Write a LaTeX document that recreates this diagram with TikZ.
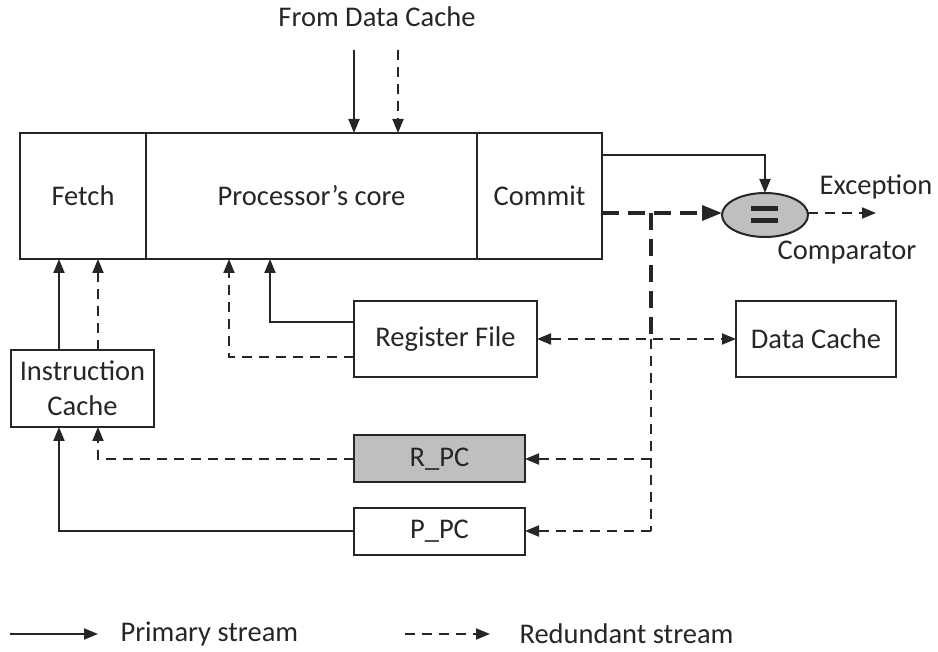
\documentclass[tikz,border=0pt]{standalone}
\usepackage{fontspec}
\setmainfont{Carlito}
\usetikzlibrary{arrows.meta,shapes.geometric}
\begin{document}
\begin{tikzpicture}[x=1pt,y=-1pt,
  every node/.style={font=\fontsize{28.5}{35}\selectfont, text=black!85},
  blk/.style={draw=black!85, line width=2pt, inner sep=0pt, outer sep=0pt},
  ln/.style={draw=black!85, line width=2pt},
  dsh/.style={ln, dash pattern=on 10pt off 7pt},
  thk/.style={draw=black!85, line width=3.5pt, dash pattern=on 17pt off 9pt},
  tip/.style={-{Triangle[length=14pt,width=11pt]}},
  bothtip/.style={{Triangle[length=14pt,width=11pt]}-{Triangle[length=14pt,width=11pt]}},
]
\useasboundingbox (0,0) rectangle (938,652);
% main box
\node[blk, minimum width=126pt, minimum height=126pt] (fetch) at (83,196) {Fetch};
\node[blk, minimum width=331pt, minimum height=126pt] (core) at (311.5,196) {Processor’s core};
\node[blk, minimum width=125pt, minimum height=126pt] (commit) at (539.5,196) {Commit};
% other blocks
\node[blk, minimum width=183pt, minimum height=76pt] (rf) at (445.5,339) {Register File};
\node[blk, minimum width=160pt, minimum height=76pt] (dc) at (816,339) {Data Cache};
\node[blk, minimum width=143pt, minimum height=77pt, align=center] (ic) at (82.5,388.5) {Instruction\\Cache};
\node[blk, fill=black!25, minimum width=171pt, minimum height=47pt] (rpc) at (439.5,459) {R\_PC};
\node[blk, minimum width=171pt, minimum height=47pt] (ppc) at (439.5,531) {P\_PC};
\node[blk, fill=black!25, ellipse, minimum width=86pt, minimum height=44pt] (cmp) at (765,215) {};
\fill[black!85] (751,206) rectangle (778,211);
\fill[black!85] (751,218) rectangle (778,223);
\node (exc) at (876,187) {Exception};
\node (cmpl) at (847,253) {Comparator};
\node (fdc) at (377,17) {From Data Cache};
% from data cache
\coordinate (fa) at (354,50);
\coordinate (fb) at (398,50);
\draw[ln, tip] (fa) -- (fa |- core.north);
\draw[dsh, tip] (fb) -- (fb |- core.north);
% commit to comparator
\draw[ln, tip] (commit.east |- 0,155) -| (cmp.north);
\draw[thk, -{Triangle[length=20pt,width=15pt]}] (commit.east |- 0,213) -- (cmp.west |- 0,213);
\coordinate (ex) at (876,213);
\draw[dsh, tip] (cmp.east |- 0,213) -- (ex);
% vertical redundant bus
\coordinate (v0) at (651,213);
\coordinate (v1) at (651,339);
\coordinate (v2) at (651,459);
\coordinate (v3) at (651,531);
\draw[thk] (v0) -- (v1);
\draw[dsh] (v1) -- (v3);
\draw[dsh, tip] (v2) -- (rpc.east);
\draw[dsh, tip] (v3) -- (ppc.east);
% rf <-> dc
\draw[dsh, bothtip] (rf.east) -- (dc.west);
% rf to core
\draw[ln, tip] (rf.west |- 0,322) -| (270,259);
\draw[dsh, tip] (rf.west |- 0,357) -| (229,259);
% ic to fetch
\draw[ln, tip] (59,350) -- (59,259);
\draw[dsh, tip] (98,350) -- (98,259);
% pcs to ic
\draw[dsh, tip] (rpc.west) -| (98,427);
\draw[ln, tip] (ppc.west) -| (59,427);
% legend
\coordinate (l1a) at (10,634);
\coordinate (l1b) at (98,634);
\coordinate (l2a) at (405,634);
\coordinate (l2b) at (490,634);
\draw[ln, tip] (l1a) -- (l1b);
\draw[dsh, tip] (l2a) -- (l2b);
\node[anchor=west] (lg1) at (117,634) {Primary stream};
\node[anchor=west] (lg2) at (516,634) {Redundant stream};
\end{tikzpicture}
\end{document}
